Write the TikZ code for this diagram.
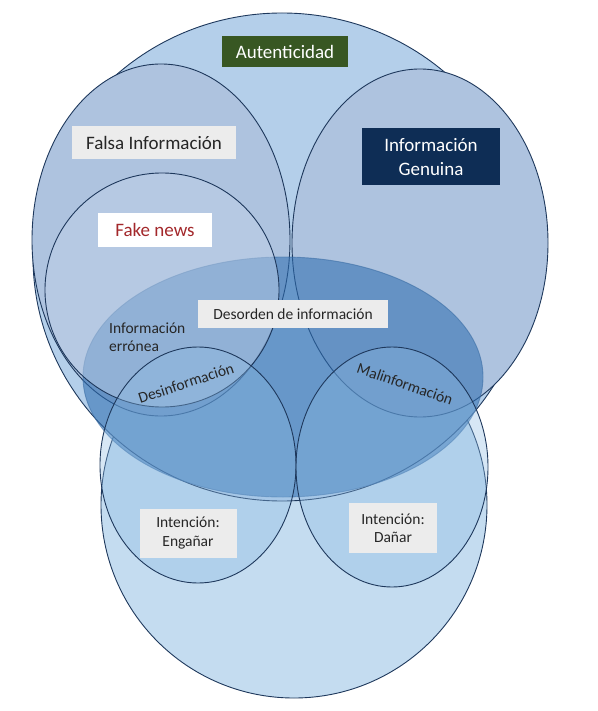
\documentclass[tikz,border=0pt]{standalone}
\usepackage{fontspec}
\setmainfont{Carlito}
\usetikzlibrary{shapes.geometric}
\definecolor{setline}{RGB}{30,56,92}
\definecolor{autfill}{RGB}{180,207,234}
\definecolor{lowfill}{RGB}{196,220,240}
\definecolor{disfill}{RGB}{46,109,176}
\definecolor{disline}{RGB}{60,110,165}
\definecolor{infofill}{RGB}{174,195,223}
\definecolor{fakefill}{RGB}{190,208,232}
\definecolor{intfill}{RGB}{140,186,226}
\definecolor{greybox}{RGB}{236,236,236}
\definecolor{greentag}{RGB}{56,87,35}
\definecolor{navytag}{RGB}{14,45,85}
\definecolor{redtext}{RGB}{163,40,43}
\definecolor{darktext}{RGB}{38,38,38}
\tikzset{set/.style = {ellipse, draw = setline, line width = 0.9pt, inner sep = 0pt},
	tag/.style = {inner sep = 0pt, align = center, font = \fontsize{19}{24}\selectfont},
	small/.style = {inner sep = 0pt, align = center, text = darktext, font = \fontsize{15.5}{18.5}\selectfont}}

\begin{document}
\begin{tikzpicture}[x = 1pt, y = -1pt]
	\useasboundingbox (0, 0) rectangle (597, 711);
	
	\node[set, fill = lowfill, minimum width = 386pt, minimum height = 386pt] (2) at (294, 505) {};
	\node[set, fill = autfill, minimum width = 498pt, minimum height = 488pt] (1) at (282, 257) {};
	\node[set, fill = infofill, minimum width = 258pt, minimum height = 352pt] (4) at (161, 240) {};
	\node[set, fill = infofill, minimum width = 256pt, minimum height = 348pt] (5) at (420, 243) {};
	\node[set, draw = disline, draw opacity = 0.6, fill = disfill, fill opacity = 0.57, minimum width = 400pt, minimum height = 240pt] (3) at (283, 377) {};
	\node[set, fill = fakefill, fill opacity = 0.5, minimum width = 234pt, minimum height = 234pt] (6) at (162, 290) {};
	\node[set, fill = intfill, fill opacity = 0.35, minimum width = 196pt, minimum height = 236pt] (7) at (198, 465) {};
	\node[set, fill = intfill, fill opacity = 0.35, minimum width = 192pt, minimum height = 240pt] (8) at (392, 467) {};
	
	\node[tag, fill = greentag, text = white, minimum width = 126pt, minimum height = 31pt] (a) at (285, 52) {Autenticidad};
	\node[tag, fill = greybox, text = darktext, minimum width = 164pt, minimum height = 33pt] (b) at (154, 143) {Falsa Información};
	\node[tag, fill = navytag, text = white, minimum width = 138pt, minimum height = 57pt] (c) at (431, 157) {Información\\Genuina};
	\node[tag, fill = white, text = redtext, minimum width = 114pt, minimum height = 33pt] (d) at (155, 230) {Fake news};
	\node[small, fill = greybox, minimum width = 190pt, minimum height = 28pt] (e) at (293, 314) {Desorden de información};
	\node[small, align = left, anchor = west] (f) at (109, 337) {Información\\errónea};
	\node[small, rotate = 18] (g) at (186, 383) {Desinformación};
	\node[small, rotate = -19] (h) at (405, 384) {Malinformación};
	\node[small, fill = greybox, minimum width = 97pt, minimum height = 49pt] (i) at (188, 533) {Intención:\\Engañar};
	\node[small, fill = greybox, minimum width = 88pt, minimum height = 50pt] (j) at (393, 528) {Intención:\\Dañar};
	
\end{tikzpicture}
\end{document}
